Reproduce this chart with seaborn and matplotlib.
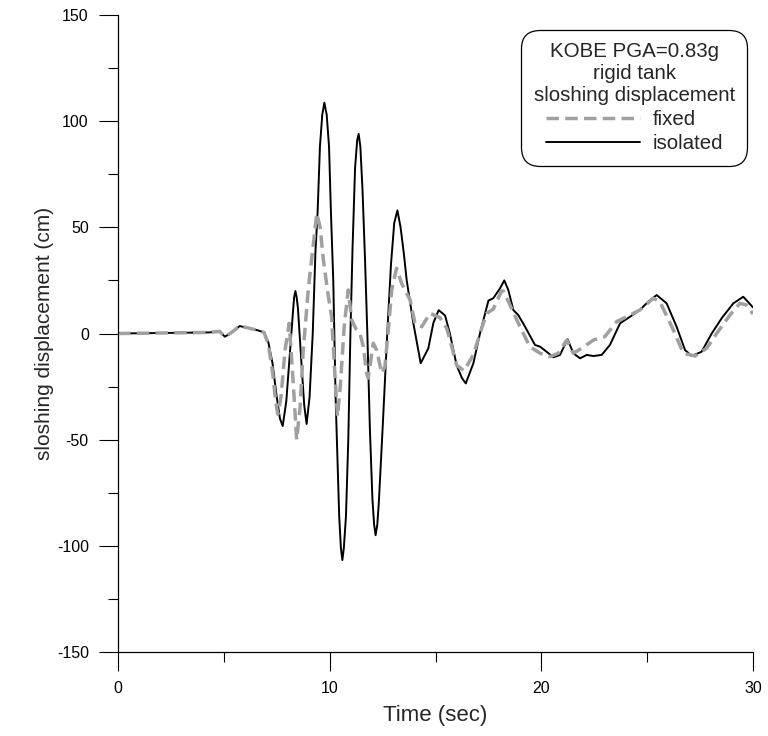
import matplotlib
matplotlib.use("Agg")
import matplotlib.pyplot as plt
from matplotlib.ticker import MultipleLocator
import seaborn as sns
import pandas as pd

# isolated (black solid)
iso_t = [0, 4.3, 4.8, 5.05, 5.3, 5.75, 6.2, 6.6, 6.9, 7.1, 7.3, 7.5, 7.65, 7.78, 7.95, 8.13, 8.25, 8.32, 8.38, 8.44,
         8.5, 8.68, 8.8, 8.91, 9.05, 9.2, 9.33, 9.43, 9.54, 9.65, 9.75, 9.86, 9.97, 10.06, 10.17, 10.28,
         10.45, 10.53, 10.6, 10.67, 10.77, 10.88, 10.98, 11.08, 11.2, 11.3, 11.37, 11.45, 11.55, 11.67, 11.78, 11.9,
         12.02, 12.1, 12.17, 12.25, 12.32, 12.5, 12.72, 12.9, 13.05, 13.2, 13.35, 13.5, 13.64, 13.95, 14.3, 14.66,
         14.9, 15.15, 15.45, 15.68, 16.0, 16.25, 16.43, 16.79, 17.1, 17.5, 17.73, 18.05, 18.25, 18.44,
         18.68, 18.91, 19.23, 19.7, 19.94, 20.25, 20.57, 20.88, 21.24, 21.51, 21.83, 22.14, 22.46, 22.85,
         23.24, 23.72, 24.19, 24.66, 25.05, 25.45, 25.92, 26.39, 26.79, 27.1, 27.57, 28.05, 28.52, 29.07,
         29.54, 30.0]
iso_v = [0, 0.5, 1, -1.5, 0, 3.5, 2.5, 1.5, 0.5, -4, -14, -30, -40, -43.6, -32, -8, 8, 17, 20, 17,
         12, -16, -34, -42.6, -30, 0, 39, 57, 88, 103, 108.7, 103, 88, 57, 25, -30,
         -86, -101, -106.7, -101, -86, -50, 0, 40, 78, 91, 94, 88, 68, 35, 0, -45,
         -78, -90, -95, -90, -80, -45, 0, 33, 52, 58, 50, 38, 25, 5, -14, -7,
         5, 11, 8.5, 0, -15, -21, -23.5, -14, 0, 15.5, 16.6, 21.3, 25, 20.5,
         11, 8.7, 3.2, -5.4, -6.2, -8.6, -11.2, -10.1, -2.7, -9.3, -11.7, -10.1, -10.6, -10.1,
         -5.4, 4.8, 7.9, 11.1, 15, 18.1, 14.2, 3.2, -7.8, -10.6, -8.6, 0, 7.2, 14.2,
         17.3, 12.3]

# fixed (grey dashed)
fix_t = [0, 4.3, 4.8, 5.05, 5.3, 5.75, 6.2, 6.6, 6.9, 7.1, 7.3, 7.45, 7.55, 7.7, 7.89, 8.09, 8.28,
         8.44, 8.6, 8.75, 9.0, 9.23, 9.39, 9.55, 9.7, 9.9, 10.09, 10.25, 10.37, 10.5, 10.7, 10.88,
         11.04, 11.25, 11.43, 11.59, 11.75, 11.82, 12.06, 12.22, 12.46, 12.61, 12.77, 12.93, 13.16,
         13.4, 13.8, 14.03, 14.35, 14.74, 15.21, 15.53, 15.68, 16.0, 16.35, 16.79, 17.1, 17.42, 17.73,
         18.12, 18.2, 18.52, 18.99, 19.46, 19.94, 20.41, 20.8, 21.2, 21.51, 21.9, 22.46, 23.0, 23.56,
         24.19, 24.66, 25.29, 25.6, 26.24, 26.71, 27.26, 27.81, 28.28, 28.91, 29.38, 29.7, 30.0]
fix_v = [0, 0.5, 1, -1.5, 0, 3.5, 2.5, 1.5, 0.5, -5, -18, -32, -38, -30, -8, 4.8, -23.5,
         -50, -35, -8, 22, 42, 56.6, 50, 35, 20, 8, -20, -39, -25, 5, 20.5,
         6.4, 2, 0, -6.2, -18.7, -21, -4.6, -7.8, -18.7, -15.6, 1.6, 20.5, 30.7,
         23.6, 15.8, 4.8, 3.2, 9.5, 7.5, 2.4, -3, -15, -17.5, -10, 0, 9.5, 11.5,
         20, 20, 13.4, 3.2, -6.2, -9.3, -10.9, -9.3, -3.1, -9.3, -7, -3.1, -1.5, 5.6,
         8.7, 11.1, 16.6, 15, 1.6, -9.3, -10.6, -7, 0, 8.7, 14.2, 13.4, 9.2]

sns.set_theme(style="ticks")
plt.rcParams['font.family'] = ['Liberation Sans', 'DejaVu Sans']
plt.rcParams['axes.unicode_minus'] = False

fig = plt.figure(figsize=(7.68, 7.36), dpi=100)
ax = fig.add_axes([118/768, 1-652/736, (753-118)/768, (652-15)/736])

df_iso = pd.DataFrame({"t": iso_t, "v": iso_v})
df_fix = pd.DataFrame({"t": fix_t, "v": fix_v})

sns.lineplot(data=df_iso, x="t", y="v", ax=ax, color="black", linewidth=1.4,
             label="isolated", sort=False)
sns.lineplot(data=df_fix, x="t", y="v", ax=ax, color="#a0a0a0", linewidth=2.5,
             label="fixed", sort=False)
line_iso = ax.get_lines()[0]
line_fix = ax.get_lines()[-1]
line_fix.set_linestyle((0, (3.6, 1.8)))
line_iso.set_solid_joinstyle("round")

ax.set_xlim(0, 30)
ax.set_ylim(-150, 150)
ax.xaxis.set_major_locator(MultipleLocator(10))
ax.xaxis.set_minor_locator(MultipleLocator(5))
ax.yaxis.set_major_locator(MultipleLocator(50))
ax.yaxis.set_minor_locator(MultipleLocator(25))
ax.tick_params(which="major", direction="out", length=14, width=0.8, color="black",
               labelsize=11.5, pad=7, labelcolor="black")
ax.tick_params(which="minor", direction="out", length=7, width=0.8, color="black")
for s in ["top", "right"]:
    ax.spines[s].set_visible(False)
for s in ["left", "bottom"]:
    ax.spines[s].set_color("black")
    ax.spines[s].set_linewidth(0.9)

ax.set_xlabel("Time (sec)", fontsize=16, labelpad=6)
ax.set_ylabel("sloshing displacement (cm)", fontsize=15, labelpad=2)

leg = ax.legend([line_fix, line_iso], ["fixed", "isolated"],
                title="KOBE PGA=0.83g\nrigid tank\nsloshing displacement",
                loc="upper right", bbox_to_anchor=(0.991, 0.977), fontsize=14.8,
                title_fontsize=14.8, fancybox=True, framealpha=1, edgecolor="black",
                handlelength=4.6, handletextpad=0.6, borderpad=0.6, labelspacing=0.25,
                borderaxespad=0)
leg.get_frame().set_linewidth(0.9)
leg.get_frame().set_boxstyle("round", pad=0.0, rounding_size=0.9)
leg.get_title().set_multialignment("center")
leg.get_title().set_linespacing(1.2)

fig.savefig("out.png", dpi=100, facecolor="white")
